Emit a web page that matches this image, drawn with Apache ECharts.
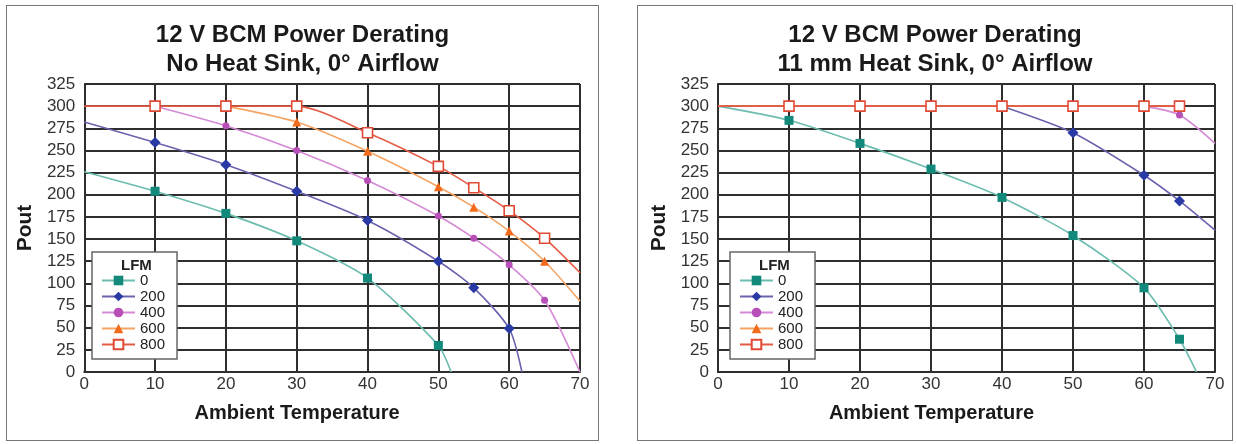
<!DOCTYPE html>
<html>
<head>
<meta charset="utf-8">
<script src="https://cdn.jsdelivr.net/npm/echarts@6/dist/echarts.min.js"></script>
<style>
  body { margin: 0; background: #fff; width: 1237px; height: 444px; position: relative; overflow: hidden; }
  .panel { position: absolute; top: 5px; height: 436px; border: 1px solid #777; box-sizing: border-box; }
  .panel .chart { width: 100%; height: 100%; }
  #left { left: 6px; width: 593px; }
  #right { left: 637px; width: 596px; }
</style>
</head>
<body>
<div id="left" class="panel"><div class="chart" id="chartLeft"></div></div>
<div id="right" class="panel"><div class="chart" id="chartRight"></div></div>
<script>
const lfm = ['0', '200', '400', '600', '800'];

// No heat sink (left)
const nhsTemp0 = [0, 10, 20, 30, 40, 50, 51.8];
const nhsPout0 = [226, 204, 179, 148, 106, 30, 0];
const nhsTemp200 = [0, 10, 20, 30, 40, 50, 55, 60, 61.8];
const nhsPout200 = [282, 259, 234, 204, 171, 125, 95, 49, 0];
const nhsTemp400 = [10, 20, 30, 40, 50, 55, 60, 65, 70];
const nhsPout400 = [300, 278, 250, 216, 176, 151, 121, 81, 0];
const nhsTemp600 = [20, 30, 40, 50, 55, 60, 65, 70];
const nhsPout600 = [300, 282, 249, 209, 186, 159, 125, 80];
const nhsTemp800 = [0, 10, 20, 30, 40, 50, 55, 60, 65, 70];
const nhsPout800 = [300, 300, 300, 300, 270, 232, 208, 182, 151, 112];

// 11 mm heat sink (right)
const hsTemp0 = [0, 10, 20, 30, 40, 50, 60, 65, 67.4];
const hsPout0 = [300, 284, 258, 229, 197, 154, 95, 37, 0];
const hsTemp200 = [40, 50, 60, 65, 70];
const hsPout200 = [300, 270, 222, 193, 160];
const hsTemp400 = [60, 65, 70];
const hsPout400 = [300, 290, 258];
const hsTemp600 = [0, 10, 20, 30, 40, 50, 60, 65];
const hsPout600 = [300, 300, 300, 300, 300, 300, 300, 300];
const hsTemp800 = [0, 10, 20, 30, 40, 50, 60, 65];
const hsPout800 = [300, 300, 300, 300, 300, 300, 300, 300];

const font = "'Liberation Sans', Arial, sans-serif";
const looks = [
  { symbol: 'rect', size: 9, line: '#6cbcaf', fill: '#12897a', border: '#12897a', bw: 0 },
  { symbol: 'diamond', size: 11, line: '#6a63ae', fill: '#2a3aa5', border: '#2a3aa5', bw: 0 },
  { symbol: 'circle', size: 7, line: '#d58ad5', fill: '#b84fb8', border: '#b84fb8', bw: 0 },
  { symbol: 'triangle', size: 9, line: '#f5a463', fill: '#f26b1d', border: '#f26b1d', bw: 0 },
  { symbol: 'rect', size: 10, line: '#e45b45', fill: '#ffffff', border: '#e04a35', bw: 1.6 }
];

function buildSeries(temps, pouts) {
  return lfm.map((name, i) => ({
    name: name,
    type: 'line',
    data: temps[i].map((t, j) => [t, pouts[i][j]]),
    smooth: 0.25,
    symbol: looks[i].symbol,
    symbolSize: (v) => (v[0] > 0 && v[0] < 70 && v[1] > 0 ? looks[i].size : 0),
    showAllSymbol: true,
    lineStyle: { color: looks[i].line, width: 1.6 },
    itemStyle: { color: looks[i].fill, borderColor: looks[i].border, borderWidth: looks[i].bw },
    z: 3 + i
  }));
}

function makeChart(dom, titleText, gridLeft, gridWidth, series) {
  const chart = echarts.init(dom);
  const axisColor = '#2e2e2e';
  chart.setOption({
    animation: false,
    title: {
      text: titleText,
      left: 'center',
      top: 10,
      textStyle: { fontSize: 24, fontWeight: 'bold', lineHeight: 29, color: '#1a1a1a', fontFamily: font }
    },
    grid: { left: gridLeft, top: 78, width: gridWidth, height: 288 },
    xAxis: {
      type: 'value', min: 0, max: 70, interval: 10,
      name: 'Ambient Temperature', nameLocation: 'middle', nameGap: 31,
      nameTextStyle: { fontSize: 20, fontWeight: 'bold', color: '#1a1a1a', fontFamily: font, padding: [0, 70, 0, 0] },
      axisLine: { lineStyle: { color: axisColor, width: 2 } },
      axisTick: { show: false },
      axisLabel: { fontSize: 17, color: '#333', fontFamily: font, margin: 4 },
      splitLine: { show: true, lineStyle: { color: axisColor, width: 2 } }
    },
    yAxis: {
      type: 'value', min: 0, max: 325, interval: 25,
      name: 'Pout', nameLocation: 'middle', nameGap: 48,
      nameTextStyle: { fontSize: 21, fontWeight: 'bold', color: '#1a1a1a', fontFamily: font },
      axisLine: { show: true, lineStyle: { color: axisColor, width: 2 } },
      axisTick: { show: false },
      axisLabel: { fontSize: 17, color: '#333', fontFamily: font, margin: 9 },
      splitLine: { show: true, lineStyle: { color: axisColor, width: 2 } }
    },
    legend: {
      orient: 'vertical',
      left: gridLeft + 12,
      top: 246,
      padding: [21, 12, 7, 9],
      backgroundColor: '#fff',
      borderColor: '#666',
      borderWidth: 1.5,
      itemWidth: 33,
      itemHeight: 12,
      itemGap: 1,
      selectedMode: false,
      textStyle: { fontSize: 15, lineHeight: 15, color: '#222', fontFamily: font },
      data: lfm
    },
    graphic: [{
      type: 'text',
      left: gridLeft + 41,
      top: 252,
      z: 100,
      style: { text: 'LFM', font: 'bold 15px ' + font, fill: '#222' }
    }],
    series: series
  });
  return chart;
}

makeChart(
  document.getElementById('chartLeft'),
  '12 V BCM Power Derating\nNo Heat Sink, 0° Airflow',
  73, 500,
  buildSeries(
    [nhsTemp0, nhsTemp200, nhsTemp400, nhsTemp600, nhsTemp800],
    [nhsPout0, nhsPout200, nhsPout400, nhsPout600, nhsPout800]
  )
);

makeChart(
  document.getElementById('chartRight'),
  '12 V BCM Power Derating\n11 mm Heat Sink, 0° Airflow',
  80, 497,
  buildSeries(
    [hsTemp0, hsTemp200, hsTemp400, hsTemp600, hsTemp800],
    [hsPout0, hsPout200, hsPout400, hsPout600, hsPout800]
  )
);
</script>
</body>
</html>
